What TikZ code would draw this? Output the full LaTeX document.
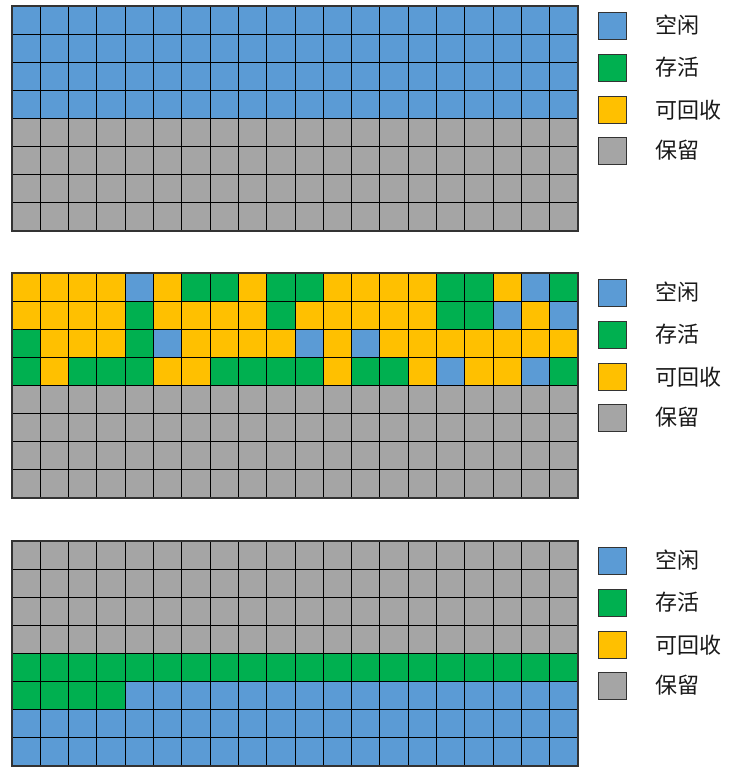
\documentclass[tikz,border=0pt]{standalone}
\usepackage{fontspec}
\newfontfamily\cjk{Noto Sans CJK SC}
\usetikzlibrary{positioning}
\definecolor{cellB}{HTML}{5B9BD5}
\definecolor{cellG}{HTML}{00B050}
\definecolor{cellY}{HTML}{FFC000}
\definecolor{cellR}{HTML}{A5A5A5}
% one cell of a heap: top of heap, column, row, colour letter
\newcommand{\heapcell}[4]{\filldraw[cell,fill=cell#4] ({12+28.3*#2},{#1+28.1*#3}) rectangle +(28.3,28.1);}

\begin{document}
\begin{tikzpicture}[x=1pt,y=-1pt,node distance=28pt]
    \tikzset{cell/.style={draw=black,line width=1pt},
      frame/.style={draw=black!80,line width=1.3pt},
      legbox/.style={draw=black!80,line width=0.8pt,minimum width=28pt,minimum height=27pt,inner sep=0pt},
      leglabel/.style={inner sep=0pt,anchor=west,font=\cjk\fontsize{22}{22}\selectfont,text=black!90}}
    \useasboundingbox (0,0) rectangle (739,779);
    % heap 1
    \foreach \c in {0,...,19} {
      \foreach \r in {0,...,3} {\heapcell{6}{\c}{\r}{B}}
      \foreach \r in {4,...,7} {\heapcell{6}{\c}{\r}{R}}
    }
    \draw[frame] (12,6) rectangle (578,231);
    % heap 2
    \foreach \pat [count=\r from 0] in {
      {Y,Y,Y,Y,B,Y,G,G,Y,G,G,Y,Y,Y,Y,G,G,Y,B,G},
      {Y,Y,Y,Y,G,Y,Y,Y,Y,G,Y,Y,Y,Y,Y,G,G,B,Y,B},
      {G,Y,Y,Y,G,B,Y,Y,Y,Y,B,Y,B,Y,Y,Y,Y,Y,Y,Y},
      {G,Y,G,G,G,Y,Y,G,G,G,G,Y,G,G,Y,B,Y,Y,B,G}} {
      \foreach \k [count=\c from 0] in \pat {\heapcell{273}{\c}{\r}{\k}}
    }
    \foreach \c in {0,...,19} {
      \foreach \r in {4,...,7} {\heapcell{273}{\c}{\r}{R}}
    }
    \draw[frame] (12,273) rectangle (578,498);
    % heap 3
    \foreach \c in {0,...,19} {
      \foreach \r in {0,...,3} {\heapcell{541}{\c}{\r}{R}}
      \heapcell{541}{\c}{4}{G}
      \foreach \r in {6,7} {\heapcell{541}{\c}{\r}{B}}
    }
    \foreach \c in {0,...,3} {\heapcell{541}{\c}{5}{G}}
    \foreach \c in {4,...,19} {\heapcell{541}{\c}{5}{B}}
    \draw[frame] (12,541) rectangle (578,766);
    % legends
    \foreach \top [count=\g] in {6,273,541} {
      \node[legbox,fill=cellB] (free\g) at (612.5,{\top+19.5}) {};
      \node[legbox,fill=cellG,below=14.3pt of free\g] (live\g) {};
      \node[legbox,fill=cellY,below=14.3pt of live\g] (dead\g) {};
      \node[legbox,fill=cellR,below=13pt of dead\g] (rsvd\g) {};
      \node[leglabel,right=of free\g] {空闲};
      \node[leglabel,right=of live\g] {存活};
      \node[leglabel,right=of dead\g] {可回收};
      \node[leglabel,right=of rsvd\g] {保留};
    }
\end{tikzpicture}
\end{document}
